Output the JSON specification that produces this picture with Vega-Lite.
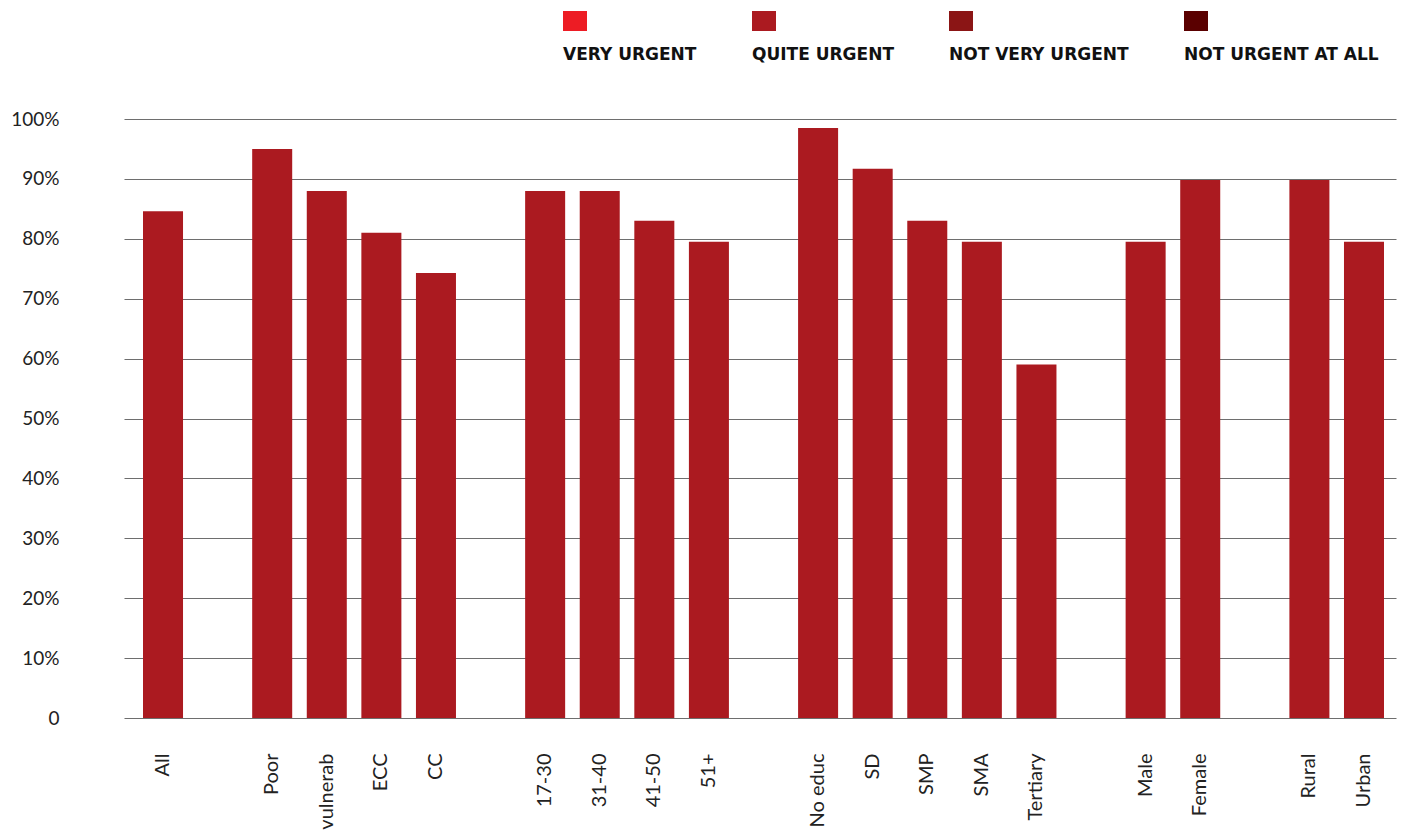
{
  "$schema": "https://vega.github.io/schema/vega-lite/v6.json",
  "autosize": "none",
  "padding": {"left": 124, "top": 119, "right": 17, "bottom": 118},
  "width": 1272,
  "height": 599,
  "background": "white",
  "config": {"view": {"stroke": null}},
  "data": {
    "values": [
      {"group": "All", "value": 84.6, "level": "Quite urgent"},
      {"group": "Poor", "value": 95, "level": "Quite urgent"},
      {"group": "vulnerab", "value": 88, "level": "Quite urgent"},
      {"group": "ECC", "value": 81, "level": "Quite urgent"},
      {"group": "CC", "value": 74.3, "level": "Quite urgent"},
      {"group": "17-30", "value": 88, "level": "Quite urgent"},
      {"group": "31-40", "value": 88, "level": "Quite urgent"},
      {"group": "41-50", "value": 83, "level": "Quite urgent"},
      {"group": "51+", "value": 79.5, "level": "Quite urgent"},
      {"group": "No educ", "value": 98.5, "level": "Quite urgent"},
      {"group": "SD", "value": 91.7, "level": "Quite urgent"},
      {"group": "SMP", "value": 83, "level": "Quite urgent"},
      {"group": "SMA", "value": 79.5, "level": "Quite urgent"},
      {"group": "Tertiary", "value": 59, "level": "Quite urgent"},
      {"group": "Male", "value": 79.5, "level": "Quite urgent"},
      {"group": "Female", "value": 89.8, "level": "Quite urgent"},
      {"group": "Rural", "value": 89.8, "level": "Quite urgent"},
      {"group": "Urban", "value": 79.5, "level": "Quite urgent"}
    ]
  },
  "mark": {"type": "bar"},
  "encoding": {
    "x": {
      "field": "group",
      "type": "nominal",
      "sort": null,
      "scale": {
        "domain": ["All", " ", "Poor", "vulnerab", "ECC", "CC", "  ", "17-30", "31-40", "41-50", "51+", "   ", "No educ", "SD", "SMP", "SMA", "Tertiary", "    ", "Male", "Female", "     ", "Rural", "Urban"],
        "paddingInner": 0.267,
        "paddingOuter": 0.284,
        "align": 0.613
      },
      "axis": {
        "title": null,
        "labelAngle": -90,
        "labelFont": "Lato",
        "labelFontSize": 20,
        "labelColor": "#222222",
        "labelPadding": 35,
        "ticks": false,
        "domain": false,
        "grid": false,
        "labelOverlap": false
      }
    },
    "y": {
      "field": "value",
      "type": "quantitative",
      "scale": {"domain": [0, 100], "nice": false},
      "axis": {
        "title": null,
        "values": [0, 10, 20, 30, 40, 50, 60, 70, 80, 90, 100],
        "labelExpr": "datum.value == 0 ? '0' : datum.value + '%'",
        "labelFont": "Lato",
        "labelFontSize": 19,
        "labelColor": "#222222",
        "labelPadding": 65,
        "ticks": false,
        "domain": false,
        "grid": true,
        "gridColor": "#6e6e6e",
        "gridWidth": 1.2
      }
    },
    "color": {
      "field": "level",
      "type": "nominal",
      "scale": {
        "domain": ["Very urgent", "Quite urgent", "Not very urgent", "Not urgent at all"],
        "range": ["#ed1c24", "#ab1a20", "#8b1515", "#5a0000"]
      },
      "legend": {
        "title": null,
        "orient": "none",
        "legendX": 441,
        "legendY": -108,
        "direction": "horizontal",
        "columns": 4,
        "columnPadding": 55,
        "symbolType": "M-1.2,-1H1.2V1H-1.2Z",
        "symbolSize": 400,
        "symbolStrokeWidth": 0,
        "symbolOpacity": 1,
        "labelExpr": "upper(datum.label)",
        "labelFont": "DejaVu Sans",
        "labelFontWeight": "bold",
        "labelFontSize": 17,
        "labelColor": "#111111",
        "labelOffset": -22,
        "labelLimit": 400,
        "encoding": {
          "labels": {"dy": {"value": 34}}
        }
      }
    }
  }
}
